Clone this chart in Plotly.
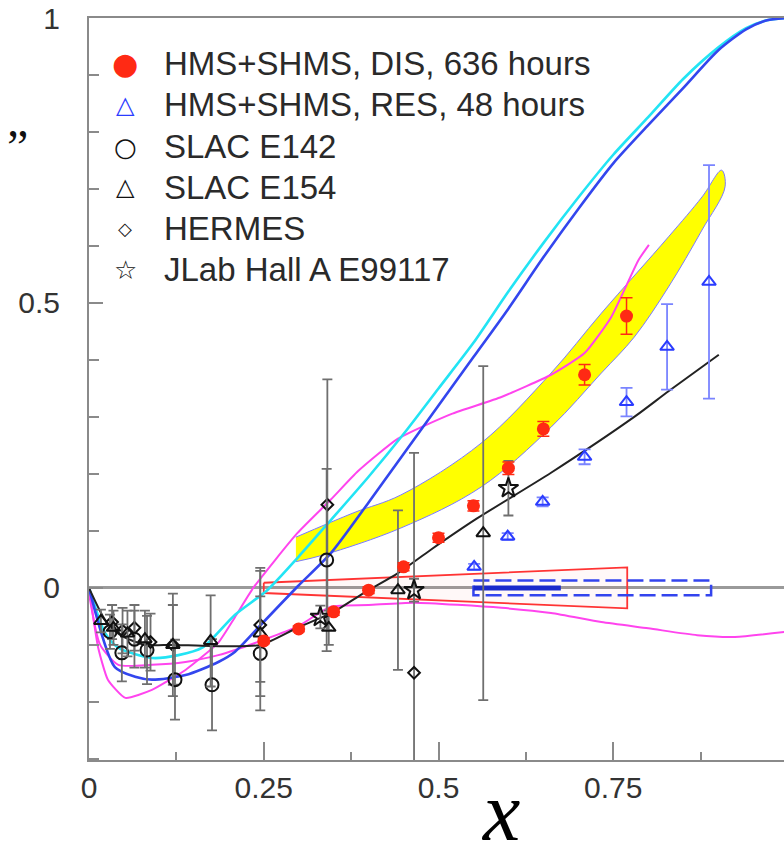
import plotly.graph_objects as go

# ---------------- data ----------------
# model curves
cyan_x = [0, 0.023, 0.042, 0.09, 0.128, 0.162, 0.209, 0.255, 0.30, 0.346, 0.40, 0.45, 0.50, 0.55, 0.60, 0.65, 0.70, 0.75, 0.80, 0.85, 0.90, 0.94, 0.97, 1.0]
cyan_y = [0, -0.079, -0.105, -0.123, -0.118, -0.105, -0.047, -0.004, 0.055, 0.119, 0.195, 0.27, 0.35, 0.43, 0.52, 0.605, 0.685, 0.76, 0.826, 0.893, 0.948, 0.982, 0.996, 1.0]

blue_x = [0, 0.037, 0.066, 0.09, 0.138, 0.185, 0.209, 0.248, 0.298, 0.346, 0.40, 0.45, 0.50, 0.55, 0.60, 0.65, 0.70, 0.75, 0.80, 0.85, 0.90, 0.94, 0.97, 1.0]
blue_y = [0, -0.139, -0.156, -0.161, -0.153, -0.13, -0.112, -0.062, 0.002, 0.061, 0.15, 0.235, 0.32, 0.405, 0.49, 0.58, 0.665, 0.745, 0.812, 0.877, 0.943, 0.98, 0.996, 1.0]

mag1_x = [0, 0.013, 0.027, 0.052, 0.09, 0.138, 0.185, 0.209, 0.235, 0.298, 0.346, 0.385, 0.442, 0.518, 0.59, 0.661, 0.709, 0.747, 0.786, 0.801]
mag1_y = [0, -0.104, -0.161, -0.193, -0.179, -0.144, -0.096, -0.051, 0.0, 0.096, 0.155, 0.205, 0.262, 0.305, 0.335, 0.374, 0.412, 0.475, 0.575, 0.602]

mag2_x = [0, 0.016, 0.042, 0.09, 0.138, 0.185, 0.209, 0.298, 0.346, 0.40, 0.465, 0.59, 0.661, 0.733, 0.80, 0.87, 0.924, 0.996]
mag2_y = [-0.01, -0.10, -0.135, -0.135, -0.13, -0.118, -0.109, -0.068, -0.033, -0.03, -0.026, -0.035, -0.044, -0.06, -0.071, -0.083, -0.086, -0.077]

blk_x = [0, 0.023, 0.044, 0.08, 0.12, 0.174, 0.245, 0.298, 0.35, 0.393, 0.442, 0.489, 0.554, 0.661, 0.78, 0.829, 0.901]
blk_y = [0, -0.056, -0.082, -0.1, -0.1, -0.102, -0.1, -0.07, -0.042, -0.009, 0.026, 0.067, 0.121, 0.202, 0.3, 0.345, 0.409]

# projected uncertainty bands
band_x_up = [0.296, 0.379, 0.446, 0.561, 0.661, 0.733, 0.829, 0.877, 0.905]
band_y_up = [0.089, 0.132, 0.163, 0.254, 0.377, 0.482, 0.616, 0.686, 0.733]
band_x_lo = [0.296, 0.336, 0.446, 0.561, 0.661, 0.733, 0.78, 0.829, 0.877, 0.91]
band_y_lo = [0.046, 0.058, 0.105, 0.177, 0.282, 0.377, 0.44, 0.528, 0.628, 0.704]

sys_dis_x = [0.25, 0.77]
sys_dis_half = [0.009, 0.036]
sys_res_x = [0.55, 0.89]
sys_res_half = [0.013, 0.013]
sys_res_core_x = [0.55, 0.675]

# data points
dis_x = [0.25, 0.30, 0.35, 0.40, 0.45, 0.50, 0.55, 0.60, 0.65, 0.709, 0.769]
dis_y = [-0.093, -0.072, -0.042, -0.004, 0.037, 0.088, 0.144, 0.21, 0.279, 0.374, 0.477]
dis_err = [0.005, 0.005, 0.006, 0.006, 0.007, 0.008, 0.009, 0.011, 0.013, 0.018, 0.032]

res_x = [0.551, 0.599, 0.649, 0.709, 0.769, 0.827, 0.887]
res_y = [0.037, 0.09, 0.151, 0.23, 0.326, 0.423, 0.537]
res_err = [0.005, 0.006, 0.008, 0.013, 0.025, 0.075, 0.205]

e142_x = [0.03, 0.047, 0.065, 0.083, 0.123, 0.176, 0.245, 0.34]
e142_y = [-0.077, -0.114, -0.09, -0.109, -0.161, -0.17, -0.115, 0.049]
e142_err = [0.03, 0.05, 0.05, 0.06, 0.07, 0.08, 0.1, 0.16]

e154_x = [0.017, 0.035, 0.055, 0.08, 0.12, 0.174, 0.245, 0.343, 0.442, 0.564]
e154_y = [-0.058, -0.07, -0.08, -0.09, -0.1, -0.093, -0.08, -0.07, -0.004, 0.096]
e154_err = [0.02, 0.03, 0.04, 0.05, 0.09, 0.08, 0.11, 0.03, 0.14, 0.293]

herm_x = [0.033, 0.048, 0.065, 0.088, 0.12, 0.245, 0.341, 0.465]
herm_y = [-0.06, -0.075, -0.07, -0.095, -0.1, -0.065, 0.146, -0.149]
herm_err = [0.03, 0.04, 0.04, 0.05, 0.07, 0.1, 0.22, 0.386]

jlab_x = [0.331, 0.465, 0.60]
jlab_y = [-0.051, -0.004, 0.175]
jlab_err = [0.02, 0.02, 0.048]

legend_labels = ["HMS+SHMS, DIS, 636 hours", "HMS+SHMS, RES, 48 hours", "SLAC E142",
                 "SLAC E154", "HERMES", "JLab Hall A E99117"]

x_ticks = [0, 0.25, 0.5, 0.75]
y_ticks = [0, 0.5, 1]

# ---------------- figure ----------------
W, H = 784, 860
ML, MR, MT, MB = 89, 0, 18, 100
PW, PH = W - ML - MR, H - MT - MB


def px(xp):
    return (xp - ML) / PW


def py(yp):
    return (H - MB - yp) / PH


fig = go.Figure()

# yellow band
fig.add_trace(go.Scatter(
    x=band_x_up + band_x_lo[::-1], y=band_y_up + band_y_lo[::-1],
    fill="toself", fillcolor="#ffff00", mode="lines",
    line=dict(color="#7b7bff", width=1, shape="spline"), hoverinfo="skip", showlegend=False))

# red systematic band
fig.add_trace(go.Scatter(
    x=[sys_dis_x[0], sys_dis_x[1], sys_dis_x[1], sys_dis_x[0], sys_dis_x[0]],
    y=[sys_dis_half[0], sys_dis_half[1], -sys_dis_half[1], -sys_dis_half[0], sys_dis_half[0]],
    fill="toself", fillcolor="rgba(255,120,120,0.05)", mode="lines",
    line=dict(color="#ff3333", width=1.8), hoverinfo="skip", showlegend=False))

# blue systematic band
fig.add_trace(go.Scatter(
    x=[sys_res_x[0], sys_res_x[1], sys_res_x[1], sys_res_x[0], sys_res_x[0]],
    y=[sys_res_half[0], sys_res_half[1], -sys_res_half[1], -sys_res_half[0], sys_res_half[0]],
    mode="lines", line=dict(color="#3344ee", width=2.5, dash="16px,6px"),
    hoverinfo="skip", showlegend=False))
fig.add_trace(go.Scatter(
    x=sys_res_core_x, y=[0, 0], mode="lines", line=dict(color="#1a2acc", width=5),
    hoverinfo="skip", showlegend=False))

# curves
curve_style = [
    (mag2_x, mag2_y, "#ff44ee", 2, 0.6),
    (mag1_x, mag1_y, "#ff44ee", 2, 0.5),
    (cyan_x, cyan_y, "#22e4f4", 2.6, 0.7),
    (blue_x, blue_y, "#3346ee", 2.6, 0.7),
    (blk_x, blk_y, "#222222", 2, 0.7),
]
for cx, cy, col, w, sm in curve_style:
    fig.add_trace(go.Scatter(x=cx, y=cy, mode="lines",
                             line=dict(color=col, width=w, shape="spline", smoothing=sm),
                             hoverinfo="skip", showlegend=False))

grey_err = dict(color="#6f6f6f", thickness=1.8, width=5)

fig.add_trace(go.Scatter(
    x=herm_x, y=herm_y, mode="markers", name=legend_labels[4],
    marker=dict(symbol="diamond-open", size=9, color="#111", line=dict(width=2, color="#111")),
    error_y=dict(type="data", array=herm_err, **grey_err), showlegend=False))
fig.add_trace(go.Scatter(
    x=e142_x, y=e142_y, mode="markers", name=legend_labels[2],
    marker=dict(symbol="circle-open", size=13, color="#111", line=dict(width=2, color="#111")),
    error_y=dict(type="data", array=e142_err, **grey_err), showlegend=False))
fig.add_trace(go.Scatter(
    x=e154_x, y=e154_y, mode="markers", name=legend_labels[3],
    marker=dict(symbol="triangle-up-open", size=12, color="#111", line=dict(width=2, color="#111")),
    error_y=dict(type="data", array=e154_err, **grey_err), showlegend=False))
fig.add_trace(go.Scatter(
    x=jlab_x, y=jlab_y, mode="markers", name=legend_labels[5],
    marker=dict(symbol="star-open", size=15, color="#111", line=dict(width=2, color="#111")),
    error_y=dict(type="data", array=jlab_err, **grey_err), showlegend=False))
fig.add_trace(go.Scatter(
    x=res_x, y=res_y, mode="markers", name=legend_labels[1],
    marker=dict(symbol="triangle-up-open", size=12, color="#2b3cff", line=dict(width=2, color="#2b3cff")),
    error_y=dict(type="data", array=res_err, color="#7a84ff", thickness=1.8, width=6), showlegend=False))
fig.add_trace(go.Scatter(
    x=dis_x, y=dis_y, mode="markers", name=legend_labels[0],
    marker=dict(symbol="circle", size=13, color="#ff2a14", line=dict(width=0)),
    error_y=dict(type="data", array=dis_err, color="#ff2a14", thickness=1.5, width=6), showlegend=False))

# ---------------- legend drawn as text ----------------
leg_rows = [63.5, 105, 146.5, 187, 228, 269.5]
leg_syms = [("●", "#ff2a14", 30), ("△", "#2b3cff", 24), ("○", "#111111", 26),
            ("△", "#111111", 24), ("◇", "#111111", 18), ("☆", "#111111", 26)]
annotations = []
for (sym, col, sz), label, yr in zip(leg_syms, legend_labels, leg_rows):
    annotations.append(dict(x=px(125), y=py(yr), xref="paper", yref="paper", text=sym,
                            showarrow=False, xanchor="center", yanchor="middle",
                            font=dict(family="DejaVu Sans", size=sz, color=col)))
    annotations.append(dict(x=px(162), y=py(yr), xref="paper", yref="paper", text=label,
                            showarrow=False, xanchor="left", yanchor="middle",
                            font=dict(family="Liberation Sans, Arial", size=33, color="#2a2a2a")))

annotations.append(dict(x=px(17), y=py(146), xref="paper", yref="paper", text="”",
                        showarrow=False, xanchor="center", yanchor="middle",
                        font=dict(family="Liberation Serif", size=48, color="#111")))
annotations.append(dict(x=px(500), y=py(811), xref="paper", yref="paper", text="<i>x</i>",
                        showarrow=False, xanchor="center", yanchor="middle",
                        font=dict(family="Liberation Serif", size=84, color="#000")))

axis_common = dict(showgrid=False, showline=True, linecolor="#8a8a8a", linewidth=2, mirror=True,
                   ticks="inside", tickcolor="#8a8a8a", tickwidth=1.5, automargin=False,
                   tickfont=dict(family="Liberation Sans, Arial", size=30, color="#333"))

fig.update_layout(
    width=W, height=H, margin=dict(l=ML, r=MR, t=MT, b=MB, autoexpand=False),
    paper_bgcolor="white", plot_bgcolor="white", showlegend=False,
    annotations=annotations,
    xaxis=dict(range=[0, PW / 699.0], tickvals=x_ticks, ticktext=["0", "0.25", "0.5", "0.75"],
               ticklen=18, zeroline=False, ticklabelstandoff=0,
               minor=dict(dtick=0.125, tick0=0, ticklen=8, ticks="inside", tickcolor="#8a8a8a"),
               **axis_common),
    yaxis=dict(range=[-0.302, 1.0], tickvals=y_ticks, ticktext=["0", "0.5", "1"],
               ticklen=14, zeroline=True, zerolinecolor="#9a9a9a", zerolinewidth=3,
               ticklabelstandoff=21,
               minor=dict(dtick=0.1, tick0=0, ticklen=10, ticks="inside", tickcolor="#8a8a8a"),
               **axis_common),
)

fig.write_html("out.html", config={"displayModeBar": False},
               post_script="document.body.style.margin='0';document.body.style.padding='0';"
                           "document.body.style.overflow='hidden';")
